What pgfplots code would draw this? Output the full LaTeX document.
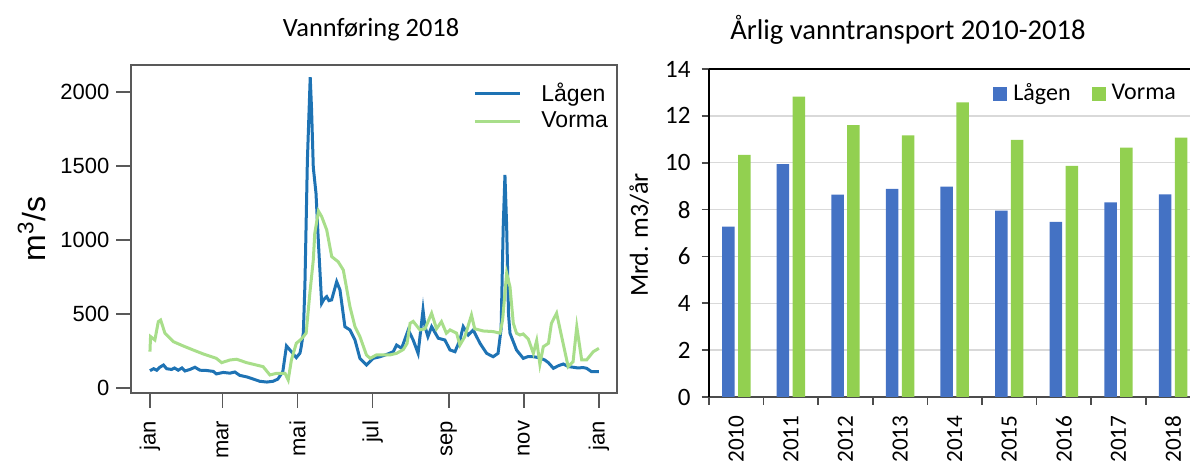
\documentclass[border=0pt]{standalone}
\usepackage{fontspec}
\setmainfont{Carlito}
\newfontfamily\arial{Liberation Sans}
\usepackage{pgfplots}
\pgfplotsset{compat=1.18}

\definecolor{lagenline}{RGB}{30,115,180}
\definecolor{vormaline}{RGB}{168,222,138}
\definecolor{lagenbar}{RGB}{68,114,196}
\definecolor{vormabar}{RGB}{146,208,80}

\begin{document}
\begin{tikzpicture}
\useasboundingbox (0,0) rectangle (595pt,230.5pt);

% daily flow 2018 (day of year)
\begin{axis}[
    at={(65.5pt,34pt)}, anchor=south west,
    scale only axis, width=243pt, height=164pt,
    xmin=-15.4, xmax=379.7, ymin=-34, ymax=2182,
    axis line style={draw=black!65, line width=0.7pt},
    every tick/.style={draw=black!65, line width=0.7pt},
    tick align=outside, tick pos=left,
    major tick length=7.25pt,
    xtick={0,59,120,181,243,304,365},
    xticklabels={jan,mar,mai,jul,sep,nov,jan},
    ytick={0,500,1000,1500,2000},
    /pgf/number format/assume math mode=true,
    /pgf/number format/1000 sep={},
    yticklabel style={font=\arial\fontsize{11}{13}\selectfont},
    xticklabel style={font=\arial\fontsize{11}{13}\selectfont, rotate=90, anchor=east, xshift=-3.2pt},
    ylabel={m\textsuperscript{3}/s},
    ylabel style={font=\arial\fontsize{16}{18}\selectfont, at={(axis description cs:-0.204,0.5)}, anchor=center},
    title={Vannføring 2018},
    title style={font=\fontsize{13.2}{15}\selectfont, at={(axis description cs:0.494,1.070)}, anchor=center},
    legend style={draw=none, fill=none, inner sep=0pt, nodes={inner sep=0pt},
        at={(axis description cs:0.7037,0.873)}, anchor=west,
        font=\arial\fontsize{11.5}{13}\selectfont, row sep=3.8pt,
        /tikz/every odd column/.append style={column sep=10pt}},
    legend cell align=left,
    legend image code/.code={\draw[#1] (0pt,0pt) -- (22.5pt,0pt);},
]
\addplot[lagenline, line width=1.5pt] coordinates {
(0,117) (3,130) (5.5,120) (8,140) (11,155) (13.6,130) (17.6,125) (20,135)
(23,120) (26,135) (28.5,115) (32.5,125) (36.6,140) (40.6,120) (46,118)
(51.5,112) (54,95) (59.6,105) (65,100) (69,108) (73,85) (78.6,75) (84,60)
(89.4,45) (95,40) (100,45) (104,60) (108,110) (111,284) (115,245) (119,205)
(122,236) (123,279) (124.7,372) (126,700) (128,1540) (130.3,2100) (131.4,1880)
(132.8,1490) (135,1315) (137,977) (139.6,572) (141.5,600) (143.7,617)
(145.5,590) (147.7,595) (151.8,718) (154.5,662) (158.5,414) (162.6,392)
(166.7,324) (170.7,200) (176,155) (181.5,200) (187,211) (192,225) (197.8,245)
(200.5,290) (204.6,268) (210,392) (214,324) (218,234) (222,527) (223.6,414)
(226,347) (229,414) (234.4,336) (239.8,324) (243.9,257) (248,245) (252,324)
(254.7,414) (258.8,358) (262.8,392) (268.3,302) (273.7,234) (279,211)
(283,234) (285.5,400) (287.2,1090) (288.6,1439) (290,1090) (291.5,500)
(292.7,370) (298,257) (303.5,200) (307,211) (311.7,211) (316,205) (321,189)
(324,170) (328,133) (332,150) (336,162) (340,145) (344,140) (348,135)
(352,138) (355,133) (359,110) (365,110)
};
\addlegendentry{Lågen}
\addplot[vormaline, line width=1.5pt] coordinates {
(0,245) (0.5,347) (4,324) (6.8,448) (8.7,459) (12.2,370) (19,313) (27,284)
(35,257) (43.3,230) (54,200) (58.3,171) (65,189) (70.5,194) (78.6,171)
(92,144) (97.5,88) (103,99) (109.8,99) (112.4,54) (115,189) (119,302)
(123,330) (127,370) (130,640) (132.8,865) (134,1045) (137,1195) (139.6,1158)
(143.7,1068) (147.8,887) (153,853) (157.2,797) (162.6,549) (166.7,414)
(170.7,347) (176,223) (179,200) (184,223) (195,223) (200.5,234) (206,260)
(209,300) (211.5,437) (214,450) (219.5,392) (223.6,400) (229,505) (233,400)
(237,448) (241,370) (244,392) (249.3,370) (252,290) (256,347) (261.4,493)
(264,400) (271,385) (279,381) (284.6,370) (286.7,459) (290,775) (292.7,684)
(295.4,437) (298,370) (300.8,358) (303.5,365) (307.6,330) (311.7,234)
(314.4,320) (317,160) (319.8,279) (324,302) (326.4,437) (330.6,505)
(334.7,347) (340,144) (344,178) (347,414) (351,189) (355,189) (360.4,245)
(365,268)
};
\addlegendentry{Vorma}
\end{axis}

% yearly transport
\begin{axis}[
    at={(354.5pt,32pt)}, anchor=south west,
    scale only axis, width=240.5pt, height=164pt,
    ybar=1.7pt, bar width=6.25pt,
    xmin=-0.5, xmax=8.31, ymin=0, ymax=14,
    axis x line*=bottom, axis y line*=left,
    x axis line style={draw=black!70, line width=0.8pt},
    y axis line style={draw=black, line width=0.8pt},
    ymajorgrids, grid style={draw=black!15, line width=0.7pt},
    tick align=outside, major tick length=3.75pt,
    every tick/.style={draw=black!70, line width=0.8pt},
    ytick={0,2,...,14},
    xtick={0,...,8},
    xticklabels={2010,2011,2012,2013,2014,2015,2016,2017,2018},
    xtick style={draw=none},
    extra x ticks={-0.5,0.5,...,7.5},
    extra x tick labels={},
    extra x tick style={xtick style={draw=black!70}, grid=none},
    /pgf/number format/assume math mode=true,
    yticklabel style={font=\fontsize{12.5}{14}\selectfont, xshift=-2pt},
    xticklabel style={font=\fontsize{11.6}{14}\selectfont, rotate=90, anchor=east, xshift=-2pt},
    ylabel={Mrd. m3/år},
    ylabel style={font=\fontsize{13}{15}\selectfont, at={(axis description cs:-0.145,0.494)}, anchor=center},
    title={Årlig vanntransport 2010-2018},
    title style={font=\fontsize{14.3}{16}\selectfont, at={(axis description cs:0.4137,1.082)}, anchor=center},
    legend style={draw=none, fill=none, inner sep=0pt, nodes={inner sep=0pt},
        at={(axis description cs:0.5904,0.925)}, anchor=west,
        font=\fontsize{12}{14}\selectfont, legend columns=2,
        /tikz/every odd column/.append style={column sep=3pt},
        /tikz/every even column/.append style={column sep=10.5pt}},
    legend cell align=left,
]
\addplot[fill=lagenbar, draw=none,
    legend image code/.code={\fill[lagenbar] (0pt,-3.5pt) rectangle (7pt,3.5pt);}]
    coordinates {(0,7.27) (1,9.94) (2,8.64) (3,8.88) (4,8.98) (5,7.95) (6,7.47) (7,8.31) (8,8.65)};
\addlegendentry{Lågen}
\addplot[fill=vormabar, draw=none,
    legend image code/.code={\fill[vormabar] (0pt,-3.5pt) rectangle (7pt,3.5pt);}]
    coordinates {(0,10.33) (1,12.82) (2,11.6) (3,11.17) (4,12.58) (5,10.97) (6,9.86) (7,10.64) (8,11.07)};
\addlegendentry{Vorma}
\draw[black, line width=0.8pt] (rel axis cs:0,1) -- (rel axis cs:1,1);
\end{axis}
\end{tikzpicture}
\end{document}
